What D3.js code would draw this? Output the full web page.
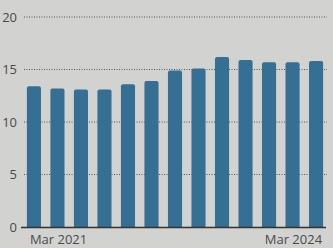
<!DOCTYPE html>
<html>
<head>
<meta charset="utf-8">
<script src="https://d3js.org/d3.v7.min.js"></script>
<style>
  body { margin: 0; background: #d2d3d1; }
  svg { display: block; }
  text { font-family: "Open Sans", "Noto Sans", sans-serif; fill: #4a4a4a; }
</style>
</head>
<body>
<div id="chart"></div>
<script>
// quarterly values, Mar 2021 .. Mar 2024
var quarters = ["Mar 2021", "Jun 2021", "Sep 2021", "Dec 2021", "Mar 2022", "Jun 2022", "Sep 2022",
                "Dec 2022", "Mar 2023", "Jun 2023", "Sep 2023", "Dec 2023", "Mar 2024"];
var values = [13.4, 13.2, 13.1, 13.1, 13.6, 13.9, 14.9, 15.1, 16.2, 15.9, 15.7, 15.7, 15.8];
var yTicks = [0, 5, 10, 15, 20];
var xLabels = ["Mar 2021", "Mar 2024"];

var width = 333, height = 248;

var svg = d3.select("#chart").append("svg")
  .attr("width", width)
  .attr("height", height);

var x = d3.scaleBand()
  .domain(quarters)
  .range([21, 329])
  .paddingInner(0.4)
  .paddingOuter(0.25);

var y = d3.scaleLinear()
  .domain([0, 20])
  .range([227, 17]);

// dotted gridlines (behind bars)
svg.selectAll(".grid")
  .data(yTicks.filter(function(d) { return d > 0; }))
  .enter().append("line")
    .attr("x1", 24).attr("x2", 327)
    .attr("y1", function(d) { return y(d); })
    .attr("y2", function(d) { return y(d); })
    .attr("stroke", "#555")
    .attr("stroke-width", 1)
    .attr("stroke-dasharray", "1,1.5");

// tick labels
svg.selectAll(".ylab")
  .data(yTicks)
  .enter().append("text")
    .attr("x", 17)
    .attr("y", function(d) { return y(d); })
    .attr("dy", "0.35em")
    .attr("text-anchor", "end")
    .attr("font-size", "13px")
    .text(function(d) { return d; });

// bars with slightly rounded tops
var r = 2;
svg.selectAll(".bar")
  .data(values)
  .enter().append("path")
    .attr("fill", "#356f94")
    .attr("d", function(d, i) {
      var x0 = x(quarters[i]), w = x.bandwidth(), top = y(d), base = y(0);
      return "M" + x0 + "," + base +
             "V" + (top + r) +
             "Q" + x0 + "," + top + " " + (x0 + r) + "," + top +
             "H" + (x0 + w - r) +
             "Q" + (x0 + w) + "," + top + " " + (x0 + w) + "," + (top + r) +
             "V" + base + "Z";
    });

// baseline
svg.append("line")
  .attr("x1", 21).attr("x2", 326)
  .attr("y1", y(0) + 0.5).attr("y2", y(0) + 0.5)
  .attr("stroke", "#333")
  .attr("stroke-width", 1.3);

// x labels: first starts at first bar, last ends at last bar
svg.append("text")
  .attr("x", x(xLabels[0]) + 3)
  .attr("y", 244)
  .attr("font-size", "13px")
  .text(xLabels[0]);

svg.append("text")
  .attr("x", x(xLabels[1]) + x.bandwidth() - 1)
  .attr("y", 244)
  .attr("text-anchor", "end")
  .attr("font-size", "13px")
  .text(xLabels[1]);
</script>
</body>
</html>
